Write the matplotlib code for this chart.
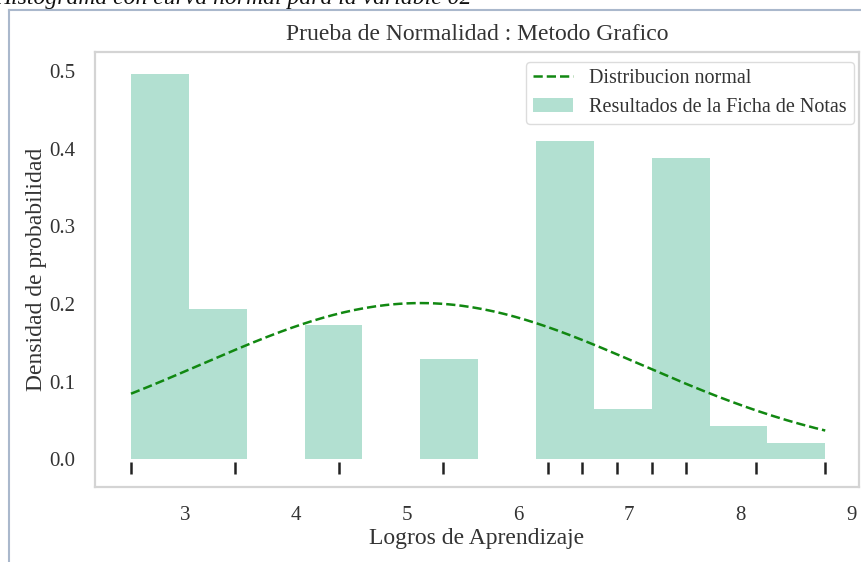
import numpy as np
import matplotlib
matplotlib.use('Agg')
import matplotlib.pyplot as plt
from matplotlib.lines import Line2D

# Observed values (from rug marks) and how many times each occurs
valores = [2.514, 3.452, 4.390, 5.327, 6.265, 6.578, 6.890, 7.203, 7.516, 8.141, 8.766]
frecuencias = [23, 9, 8, 6, 10, 9, 3, 9, 9, 2, 1]
n_bins = 12

titulo = "Prueba de Normalidad : Metodo Grafico"
xlabel = "Logros de Aprendizaje"
ylabel = "Densidad de probabilidad"
leyenda_curva = "Distribucion normal"
leyenda_hist = "Resultados de la Ficha de Notas"
caption = "Histograma con curva normal para la variable 02"
xticks = [3, 4, 5, 6, 7, 8, 9]
yticks = [0.0, 0.1, 0.2, 0.3, 0.4, 0.5]

datos = np.repeat(valores, frecuencias)
media = datos.mean()
desv = datos.std()

plt.rcParams['font.family'] = ['Liberation Serif', 'DejaVu Serif']
txt = '#333333'

fig = plt.figure(figsize=(8.62, 5.62), dpi=100)
ax = fig.add_axes([95/862, 1 - 487/562, 764/862, 435/562])

# Normal curve
xs = np.linspace(datos.min(), datos.max(), 200)
ys = np.exp(-(xs - media) ** 2 / (2 * desv ** 2)) / (desv * np.sqrt(2 * np.pi))
ax.plot(xs, ys, '--', color='#118811', lw=1.8, label=leyenda_curva)

# Histogram (density)
ax.hist(datos, bins=n_bins, density=True, color='#66c2a5', alpha=0.5,
        linewidth=0, label=leyenda_hist, zorder=1)

# Rug
ax.plot(valores, [-0.011] * len(valores), '|', color='#222222',
        markersize=9, markeredgewidth=1.8)

ax.set_xlim(2.19, 9.07)
ax.set_ylim(-0.0355, 0.5245)
ax.set_xticks(xticks)
ax.set_yticks(yticks)
ax.set_yticklabels([f"{v:.1f}" for v in yticks])
ax.tick_params(length=0, labelsize=15, labelcolor=txt)
ax.tick_params(axis='x', pad=14)
ax.tick_params(axis='y', pad=14)
for s in ax.spines.values():
    s.set_color('#d4d4d4')
    s.set_linewidth(1.6)

ax.set_title(titulo, fontsize=17, color=txt, pad=9)
ax.set_xlabel(xlabel, fontsize=17, color=txt, labelpad=2)
ax.set_ylabel(ylabel, fontsize=17, color=txt, labelpad=2)

ax.legend(loc='upper right', bbox_to_anchor=(1 - 5/764, 1 - 10/435),
          fontsize=14.5, frameon=True, edgecolor='#d4d4d4', labelcolor=txt,
          borderaxespad=0, borderpad=0.35, handlelength=2.0)

# Document frame and cut-off caption
fig.text(-6/862, 1 - 4/562, caption, fontsize=17, style='italic',
         color='#111111', va='baseline', ha='left')
fig.add_artist(Line2D([9/862, 9/862], [0, 1 - 10/562], color='#aab8cc', lw=1.5,
                      transform=fig.transFigure))
fig.add_artist(Line2D([9/862, 1], [1 - 10/562, 1 - 10/562], color='#aab8cc', lw=1.5,
                      transform=fig.transFigure))

fig.savefig('out.png', dpi=100)
